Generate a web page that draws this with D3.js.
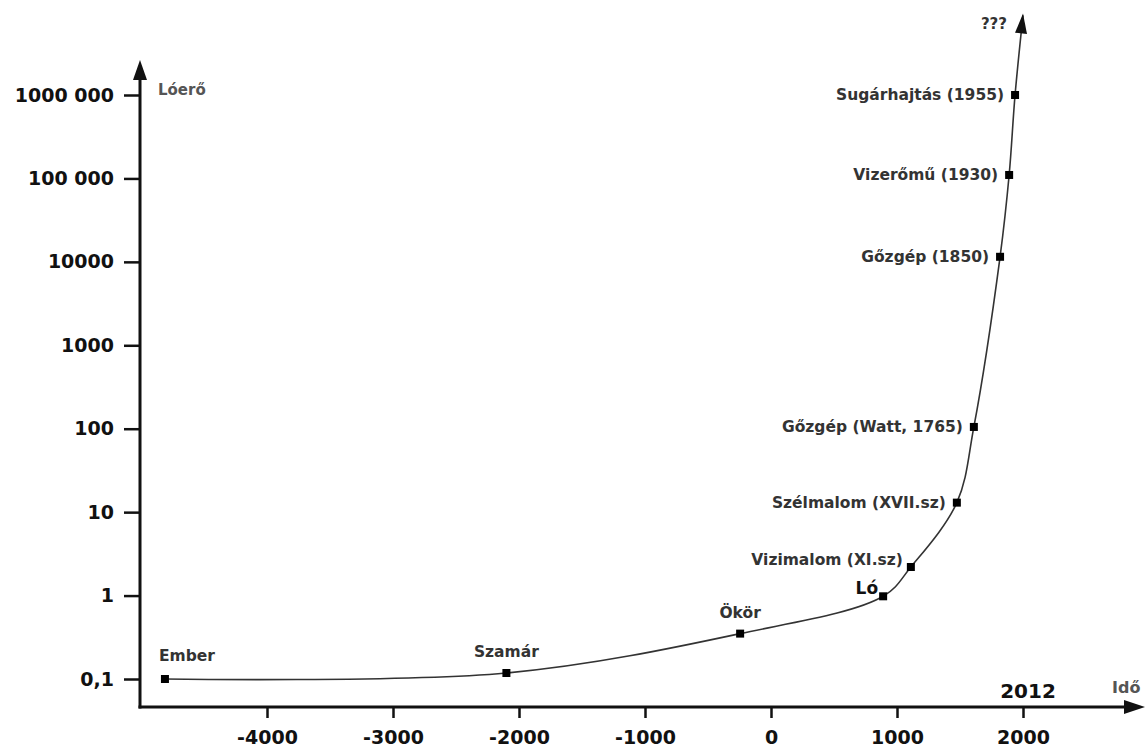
<!DOCTYPE html>
<html>
<head>
<meta charset="utf-8">
<script src="https://cdn.jsdelivr.net/npm/d3@7"></script>
<style>
  body { margin: 0; background: #fff; }
  text { font-family: "DejaVu Sans", "Liberation Sans", Arial, sans-serif; font-weight: bold; }
</style>
</head>
<body>
<div id="chart"></div>
<script>
// ---- data ----
const labels = ["Ember", "Szamár", "Ökör", "Ló", "Vizimalom (XI.sz)", "Szélmalom (XVII.sz)",
  "Gőzgép (Watt, 1765)", "Gőzgép (1850)", "Vizerőmű (1930)", "Sugárhajtás (1955)"]
const years = [-4810, -2100, -245, 890, 1110, 1475, 1610, 1818, 1890, 1937]
const power = [0.1, 0.118, 0.35, 0.98, 2.2, 13, 105, 11500, 110000, 1000000]
const futureYear = 2000
const futurePower = 9000000

const xTicks = [-4000, -3000, -2000, -1000, 0, 1000, 2000]
const yTicks = [0.1, 1, 10, 100, 1000, 10000, 100000, 1000000]
const yTickLabels = ["0,1", "1", "10", "100", "1000", "10000", "100 000", "1000 000"]

// ---- layout ----
const w = 1148, h = 751
const ox = 140, oy = 707

const svg = d3.select("#chart").append("svg")
  .attr("width", w).attr("height", h)

const x = d3.scaleLinear().domain([-4000, 2000]).range([267, 1023])
const y = d3.scaleLog().domain([0.1, 1000000]).range([679, 95])

// axes
const xAxis = svg.append("g")
  .attr("transform", "translate(0," + oy + ")")
  .call(d3.axisBottom(x).tickValues(xTicks).tickSize(11).tickPadding(13).tickFormat(d => d))
xAxis.select(".domain").remove()
xAxis.selectAll(".tick line").attr("stroke", "#111").attr("stroke-width", 2.5)
xAxis.selectAll(".tick text").attr("font-size", 19).attr("fill", "#111")
  .attr("font-family", "DejaVu Sans")

const yAxis = svg.append("g")
  .attr("transform", "translate(" + ox + ",0)")
  .call(d3.axisLeft(y).tickValues(yTicks).tickSize(16).tickPadding(10)
    .tickFormat((d, i) => yTickLabels[i]))
yAxis.select(".domain").remove()
yAxis.selectAll(".tick line").attr("stroke", "#111").attr("stroke-width", 2.5)
yAxis.selectAll(".tick text").attr("font-size", 19).attr("fill", "#111")
  .attr("font-family", "DejaVu Sans")

// axis lines with arrows
svg.append("line").attr("x1", ox).attr("y1", oy + 1.5).attr("x2", ox).attr("y2", 76)
  .attr("stroke", "#111").attr("stroke-width", 3)
svg.append("path").attr("d", "M" + ox + ",60 L" + (ox - 7) + ",80 L" + (ox + 7) + ",80 Z").attr("fill", "#111")
svg.append("line").attr("x1", ox - 1.5).attr("y1", oy).attr("x2", 1128).attr("y2", oy)
  .attr("stroke", "#111").attr("stroke-width", 3)
svg.append("path").attr("d", "M1145," + oy + " L1124," + (oy - 7) + " L1124," + (oy + 7) + " Z").attr("fill", "#111")

svg.append("text").attr("x", 158).attr("y", 95).attr("font-size", 15).attr("fill", "#555").text("Lóerő")
svg.append("text").attr("x", 1112).attr("y", 693).attr("font-size", 16).attr("fill", "#555").text("Idő")
svg.append("text").attr("x", 1028).attr("y", 698).attr("text-anchor", "middle")
  .attr("font-size", 20).attr("fill", "#111").text("2012")

// curve
const pts = years.map((d, i) => [x(d), y(power[i])])
const tip = [x(futureYear), y(futurePower)]
const line = d3.line().curve(d3.curveCatmullRom.alpha(0.5))
svg.append("path")
  .attr("d", line(pts.concat([tip])))
  .attr("fill", "none").attr("stroke", "#333").attr("stroke-width", 1.6)

// arrowhead on the curve
const last = pts[pts.length - 1]
const ang = Math.atan2(tip[1] - last[1], tip[0] - last[0]) * 180 / Math.PI
svg.append("path")
  .attr("d", "M0,0 L-20,-6 L-20,6 Z")
  .attr("transform", "translate(" + tip[0] + "," + (tip[1] - 2) + ") rotate(" + ang + ")")
  .attr("fill", "#111")
svg.append("text").attr("x", tip[0] - 16).attr("y", tip[1] + 14).attr("text-anchor", "end")
  .attr("font-size", 15).attr("fill", "#333").text("???")

// markers
svg.selectAll("rect.pt").data(pts).enter().append("rect")
  .attr("class", "pt")
  .attr("x", d => d[0] - 4).attr("y", d => d[1] - 4)
  .attr("width", 8).attr("height", 8).attr("fill", "#000")

// point labels
const lab = svg.selectAll("text.lab").data(pts).enter().append("text")
  .attr("class", "lab")
  .attr("font-size", 15.5).attr("fill", "#333")
  .text((d, i) => labels[i])
lab.each(function (d, i) {
  const t = d3.select(this)
  if (i === 0) {
    t.attr("x", d[0] - 6).attr("y", d[1] - 18)
  } else if (i === 1 || i === 2) {
    t.attr("x", d[0]).attr("y", d[1] - 16).attr("text-anchor", "middle")
  } else if (i === 3) {
    t.attr("x", d[0] - 5).attr("y", d[1] - 2).attr("text-anchor", "end").attr("font-size", 17).attr("fill", "#111")
  } else if (i === 4) {
    t.attr("x", d[0] - 8).attr("y", d[1] - 2).attr("text-anchor", "end")
  } else {
    t.attr("x", d[0] - 11).attr("y", d[1] + 5).attr("text-anchor", "end")
  }
})
</script>
</body>
</html>
